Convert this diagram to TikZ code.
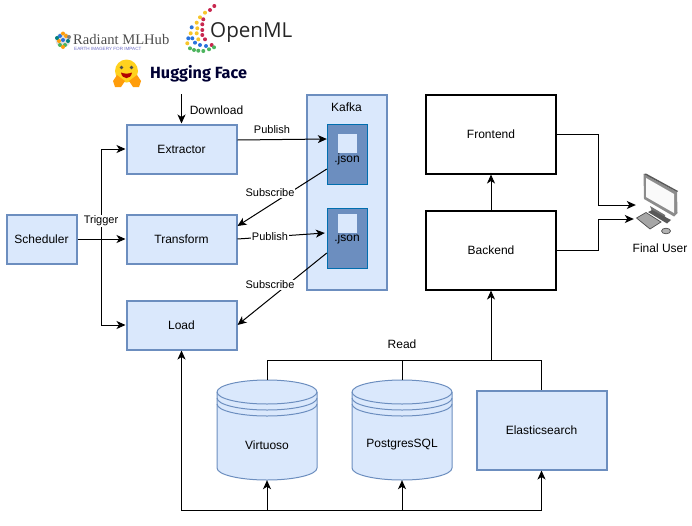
\documentclass[tikz,border=0pt]{standalone}
\usepackage{fontspec}
\setmainfont{Liberation Sans}
\newfontfamily\hugfont{Fira Sans}
\newfontfamily\openfont{Open Sans}
\newfontfamily\radfont{Liberation Serif}
\usetikzlibrary{arrows.meta,positioning,backgrounds,calc}
\definecolor{boxfill}{HTML}{DAE8FC}
\definecolor{boxline}{HTML}{6C8EBF}
\definecolor{topicline}{HTML}{006EAF}
\definecolor{dotred}{HTML}{C8274F}
\definecolor{dotyel}{HTML}{F7C52B}
\definecolor{dotblu}{HTML}{2A73DC}
\definecolor{dotgrn}{HTML}{4CB45E}
\definecolor{hugyel}{HTML}{FFD21E}
\definecolor{hugora}{HTML}{FF9D0B}
\tikzset{node distance=90pt, % default gap between the pipeline steps
        every node/.style={
            font=\fontsize{12}{14}\selectfont},
        stepbox/.style={ % blue pipeline boxes
            draw=boxline,
            line width=2pt,
            fill=boxfill,
            minimum width=110pt,
            minimum height=49pt},
        appbox/.style={ % black application boxes
            draw=black,
            line width=2pt,
            fill=white,
            minimum width=130pt,
            minimum height=79pt},
        topic/.style={ % dark kafka topics
            draw=topicline,
            fill=boxline,
            minimum width=40pt,
            minimum height=60pt},
        slot/.style={
            fill=boxfill,
            inner sep=0pt,
            minimum size=19pt},
        store/.style={ % invisible frame of a datastore
            minimum width=100pt,
            minimum height=100pt},
        tag/.style={
            font=\fontsize{11}{13}\selectfont,
            fill=white,
            inner sep=1pt},
        plain/.style={
            inner sep=1pt},
        flow/.style={
            draw,
            line width=1pt,
            >={Stealth[length=9pt,width=8pt,inset=2.5pt]}},
        every edge/.style={
            flow,
            ->}
        }

\begin{document}
\begin{tikzpicture}[x=1pt,y=1pt]
    \useasboundingbox (0,0) rectangle (692,-525);

    % pipeline
    \node[stepbox, minimum width=70pt] (scheduler) at (41.5,-239) {Scheduler};
    \node[stepbox] (transform) [right of=scheduler, node distance=140pt] {Transform};
    \node[stepbox] (extractor) [above of=transform] {Extractor};
    \node[stepbox] (load) [below of=transform, node distance=86pt] {Load};
    \coordinate (source) at (181.5,-94);
    \coordinate (trunk) at (101,-239);

    % kafka
    \node[stepbox, minimum width=80pt, minimum height=195pt,
        label={[label distance=-22pt]north:Kafka}] (kafka) at (346.5,-192) {};
    \node[topic, label={[yshift=-5pt]center:.json}] (json1) at (347,-154) {};
    \node[topic, label={center:.json}] (json2) [below of=json1, node distance=84pt] {};
    \node[slot] (slot1) [above of=json1, node distance=10.5pt] {};
    \node[slot] (slot2) [above of=json2, node distance=14.5pt] {};

    % applications
    \node[appbox] (frontend) at (491,-134) {Frontend};
    \node[appbox] (backend) [below of=frontend, node distance=116pt] {Backend};

    % storage
    \node[store, label={[yshift=-15pt]center:Virtuoso}] (virtuoso) at (267,-430) {};
    \node[store, label={[yshift=-15pt]center:PostgresSQL}] (postgres) [right of=virtuoso, node distance=135pt] {};
    \node[stepbox, minimum width=130pt, minimum height=79pt] (elastic) at (541.5,-430) {Elasticsearch};
    \coordinate (readbus) at (0,-360);
    \coordinate (writebus) at (0,-510);

    \begin{scope}[on background layer]
        \foreach \db in {virtuoso,postgres} {
            \begin{scope}[shift={(\db.center)}, draw=boxline, line width=1pt]
                \filldraw[fill=boxfill] (-50,38) arc[start angle=180, end angle=0, x radius=50, y radius=12]
                    -- (50,-38) arc[start angle=0, end angle=-180, x radius=50, y radius=12] -- cycle;
                \draw (-50,38) arc[start angle=180, end angle=360, x radius=50, y radius=12];
                \draw (-50,32) arc[start angle=180, end angle=360, x radius=50, y radius=12];
                \draw (-50,26) arc[start angle=180, end angle=360, x radius=50, y radius=12];
            \end{scope}
        }
    \end{scope}

    % final user, drawn from plain shapes
    \node[inner sep=0pt, minimum width=44pt, minimum height=62pt] (user) at (658,-204) {};
    \node (userlabel) at (660,-248) {Final User};
    \fill[black!45] (643.5,-174) -- (677,-192) -- (677.5,-213) -- (674,-216.5) -- (644,-199) -- cycle;
    \fill[black!65] (643.5,-174) -- (646,-173.5) -- (678,-191) -- (677,-192) -- cycle;
    \fill[white!96!gray] (646,-178) -- (674,-194) -- (674,-213) -- (646,-197) -- cycle;
    \fill[black!55] (650,-206) -- (665,-215) -- (665,-221) -- (653,-214) -- cycle;
    \fill[black!65] (648,-212) -- (652,-210) -- (671,-220) -- (667,-223.5) -- cycle;
    \filldraw[fill=black!35, draw=black!70, line width=.7pt] (636.5,-218) -- (646,-212.5) -- (661,-222) -- (650,-229) -- cycle;
    \filldraw[fill=black!30, draw=black!70, line width=.7pt] (666,-231) ellipse[x radius=4.5, y radius=2.8];

    % connectors
    \draw[flow, ->] (source) -- (extractor.north);
    \draw[flow, ->] (scheduler.east) -- (transform.west);
    \draw[flow, ->] (trunk) |- (extractor.west);
    \draw[flow, ->] (trunk) |- (load.west);
    \draw
        ([yshift=9pt]extractor.east) edge ([yshift=15pt]json1.west)
        ([yshift=-15pt]json1.west) edge ([yshift=13pt]transform.east)
        (transform.east) edge ([xshift=-2pt,yshift=5pt]json2.west)
        ([yshift=-15pt]json2.west) edge (load.east);
    \draw (backend.north) edge (frontend.south);
    \draw[flow, ->] (frontend.east) -- ++(41,0) |- ([yshift=-1pt]user.west);
    \draw[flow, ->] (backend.east) -- ++(41,0) |- ([xshift=-2pt,yshift=-15pt]user.west);
    \draw[flow, ->] (virtuoso.north) |- (backend.south |- readbus) -- (backend.south);
    \draw[flow] (postgres.north) -- (postgres.north |- readbus);
    \draw[flow] (elastic.north) |- (backend.south |- readbus);
    \draw[flow, <->] (load.south) |- (virtuoso.center |- writebus) -- (virtuoso.south);
    \draw[flow, ->] (virtuoso.center |- writebus) -| (postgres.south);
    \draw[flow, ->] (postgres.center |- writebus) -| (elastic.south);

    % connector labels
    \node[plain] (download) at (216.5,-110) {Download};
    \node[tag, fill=none] (publish1) at (272,-130) {Publish};
    \node[tag] (subscribe1) at (270,-193) {Subscribe};
    \node[tag] (publish2) at (270,-237) {Publish};
    \node[tag] (subscribe2) at (270,-285) {Subscribe};
    \node[tag] (trigger) at (101,-221) {Trigger};
    \node[plain] (readlabel) at (402,-344.5) {Read};

    % logos
    \node[font=\fontsize{14.6}{16}\selectfont\radfont, text=black!70, inner sep=0pt, text height=9pt, text depth=0pt, anchor=west] (radiant) at (73,-39.5) {Radiant MLHub};
    \node[font=\fontsize{4.6}{5}\selectfont, text=blue!45!gray!80, inner sep=0pt, text height=3.2pt, text depth=0pt, anchor=west] (radiantsub) at (74,-48.5) {EARTH IMAGERY FOR IMPACT};
    \fill[gray!25] (63,-40) circle (7.5);
    \foreach \x/\y/\c in {60/-36/dotblu,66/-36/hugora,63/-33.5/hugora,59/-41/hugora,
        63/-40/dotblu,68/-41/teal,60/-45/dotgrn,65/-45/dotgrn,
        57/-38/teal,69/-37/gray,63/-47/hugora}
        \fill[\c] (\x,\y) circle (2);

    \node[font=\fontsize{20.6}{25}\selectfont\openfont, text=black!85, inner sep=0pt, anchor=west] (openml) at (210,-32.5) {OpenML};
    \foreach \x/\y/\c in {214.3/-6/dotred,210/-10/dotred,205/-12.7/dotyel,200/-17.3/dotyel,
        203.3/-19.3/dotred,196.7/-22.7/dotyel,202.3/-24.3/dotred,191.7/-27.3/dotblu,
        197.3/-28.3/dotyel,202.3/-30/dotred,190.7/-33.3/dotyel,196.7/-33.3/dotyel,
        202.3/-35/dotred,188.3/-38.3/dotblu,192.3/-38.3/dotblu,198.3/-39.3/dotyel,205/-39.3/dotred,
        187.3/-43.3/dotyel,195/-42.7/dotblu,200/-45/dotblu,206/-46/dotblu,211.7/-45/dotred,
        190/-48.3/dotgrn,194/-50/dotgrn,198.3/-50.7/dotgrn,203.3/-51/dotgrn,209/-49.3/dotgrn,214/-47.3/dotgrn}
        \fill[\c] (\x,\y) circle (2);

    \node[font=\fontsize{16.2}{19}\selectfont\hugfont\bfseries, text=black!80!blue, inner sep=0pt, anchor=west] (hugging) at (150,-73.5) {Hugging Face};
    \fill[hugyel] (126.5,-71) circle (11.5);
    \fill[black!70] (121.5,-67.5) circle (1.8) (131.5,-67.5) circle (1.8);
    \fill[red!70!black] (121,-72.5) .. controls (124,-74) and (129,-74) .. (132,-72.5) .. controls (131,-80) and (122,-80) .. cycle;
    \fill[hugora] (113,-81) -- (117,-75) -- (125,-81) -- (121,-87) -- (115,-87) -- cycle;
    \fill[hugora] (141,-81) -- (137,-75) -- (129,-81) -- (133,-87) -- (139,-87) -- cycle;
\end{tikzpicture}
\end{document}
